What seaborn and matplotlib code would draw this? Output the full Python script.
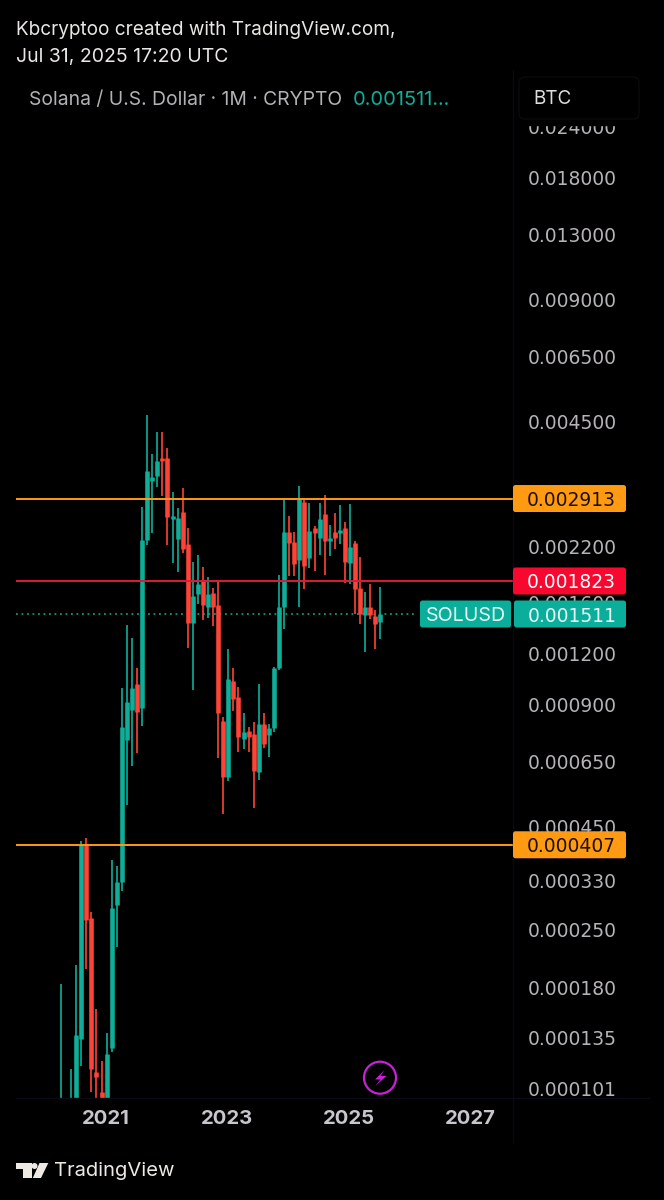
import matplotlib
matplotlib.use('Agg')
import matplotlib.pyplot as plt
from matplotlib.patches import Circle, FancyBboxPatch, Polygon, Rectangle
from matplotlib.ticker import NullFormatter, NullLocator
from matplotlib.transforms import ScaledTranslation
import numpy as np
import pandas as pd
import seaborn as sns

# monthly SOL/BTC candles, Apr 2020 to Jul 2025
opens = [0.000070, 0.000070, 0.000070, 0.000090, 0.000135, 0.000406, 0.000268, 0.000112, 0.000100, 0.000092,
         0.000128, 0.000289, 0.000329, 0.000738, 0.000876, 0.001015, 0.000886, 0.002301, 0.003218, 0.003312,
         0.003667, 0.003667, 0.002593, 0.002314, 0.002698, 0.002249, 0.001435, 0.001693, 0.001823, 0.001572,
         0.001703, 0.001590, 0.000822, 0.000599, 0.001032, 0.000943, 0.000742, 0.000778, 0.000764, 0.000616,
         0.000808, 0.000760, 0.000791, 0.001111, 0.001572, 0.002407, 0.002275, 0.002054, 0.002855, 0.002082,
         0.002463, 0.002327, 0.002668, 0.002288, 0.002407, 0.002394, 0.002463, 0.002019, 0.002262, 0.001751,
         0.001503, 0.001572, 0.001494, 0.001443]
highs = [0.000184, 0.000090, 0.000114, 0.000206, 0.000416, 0.000423, 0.000278, 0.000160, 0.000119, 0.000140,
         0.000373, 0.000360, 0.000992, 0.001419, 0.001318, 0.001111, 0.002775, 0.004683, 0.003752, 0.004252,
         0.004252, 0.003882, 0.003023, 0.002760, 0.003092, 0.002463, 0.002031, 0.002113, 0.001974, 0.001864,
         0.001751, 0.001823, 0.000842, 0.001238, 0.001111, 0.000997, 0.000861, 0.000795, 0.000818, 0.001015,
         0.000861, 0.000808, 0.001118, 0.001887, 0.002921, 0.002637, 0.002407, 0.003127, 0.002921, 0.002839,
         0.002491, 0.002839, 0.002973, 0.002505, 0.002683, 0.002807, 0.002549, 0.002823, 0.002288, 0.002089,
         0.001713, 0.001792, 0.001546, 0.001761]
lows = [0.000060, 0.000050, 0.000060, 0.000080, 0.000116, 0.000201, 0.000100, 0.000096, 0.000090, 0.000085,
        0.000125, 0.000228, 0.000313, 0.000510, 0.000637, 0.000686, 0.000799, 0.002237, 0.002394, 0.003110,
        0.002955, 0.002237, 0.002019, 0.001918, 0.002137, 0.001245, 0.000981, 0.001599, 0.001460, 0.001477,
        0.001411, 0.000667, 0.000485, 0.000585, 0.000871, 0.000690, 0.000702, 0.000690, 0.000502, 0.000588,
        0.000705, 0.000670, 0.000773, 0.001099, 0.001388, 0.001875, 0.001875, 0.001572, 0.001742, 0.001963,
        0.001929, 0.002113, 0.001887, 0.002101, 0.002186, 0.002249, 0.001802, 0.001792, 0.001511, 0.001427,
        0.001217, 0.001468, 0.001238, 0.001311]
closes = [0.000080, 0.000060, 0.000090, 0.000138, 0.000406, 0.000266, 0.000114, 0.000109, 0.000094, 0.000124,
          0.000284, 0.000329, 0.000795, 0.000917, 0.000992, 0.000866, 0.002301, 0.003407, 0.003292, 0.003605,
          0.003605, 0.002622, 0.002637, 0.002608, 0.002186, 0.001435, 0.001674, 0.001792, 0.001590, 0.001693,
          0.001572, 0.000861, 0.000599, 0.001044, 0.000932, 0.000751, 0.000773, 0.000751, 0.000619, 0.000808,
          0.000721, 0.000791, 0.001111, 0.001572, 0.002407, 0.002262, 0.002008, 0.002905, 0.001985, 0.002421,
          0.002394, 0.002593, 0.002288, 0.002327, 0.002327, 0.002435, 0.002031, 0.002211, 0.001742, 0.001511,
          0.001572, 0.001503, 0.001427, 0.001511]

price_ticks = [0.024, 0.018, 0.013, 0.009, 0.0065, 0.0045, 0.0022, 0.0016, 0.0012, 0.0009,
               0.00065, 0.00045, 0.00033, 0.00025, 0.00018, 0.000135, 0.000101]
year_pos = [8.8, 32.8, 56.8, 80.8]
year_labels = ['2021', '2023', '2025', '2027']

resistance = 0.002913
middle = 0.001823
support = 0.000407
last_price = 0.001511

UP = '#0fae99'
DOWN = '#ff4336'
ORANGE = '#ff9a12'
LINE_RED = '#dc1b3a'
BADGE_RED = '#f8082f'
BADGE_TEAL = '#0aae9a'
LABEL = '#b6b3b8'
SEP = '#0a0a14'
MAGENTA = '#c822d6'
NUM_FONT = 'DejaVu Sans'

sns.set_theme(style='dark', rc={
    'figure.facecolor': '#000000',
    'axes.facecolor': '#000000',
    'savefig.facecolor': '#000000',
    'axes.grid': False,
})
plt.rcParams['font.family'] = ['Inter', 'DejaVu Sans']

df = pd.DataFrame({'candle': np.arange(len(opens)), 'open': opens, 'high': highs,
                   'low': lows, 'close': closes})
df['dir'] = np.where(df['close'] >= df['open'], 'up', 'down')
colors = {'up': UP, 'down': DOWN}
wicks = df.melt(id_vars=['candle', 'dir'], value_vars=['low', 'high'], value_name='price')
bodies = df.melt(id_vars=['candle', 'dir'], value_vars=['open', 'close'], value_name='price')

fig = plt.figure(figsize=(6.64, 12), dpi=100)
# plot area is x 16..513, y 72..1098 in pixels
ax = fig.add_axes([16 / 664, 1 - 1098 / 1200, 497 / 664, 1026 / 1200])

sns.lineplot(data=wicks, x='candle', y='price', units='candle', hue='dir', palette=colors,
             estimator=None, sort=False, legend=False, ax=ax, lw=1.2, solid_capstyle='butt', zorder=2)
sns.lineplot(data=bodies, x='candle', y='price', units='candle', hue='dir', palette=colors,
             estimator=None, sort=False, legend=False, ax=ax, lw=3.3, solid_capstyle='butt', zorder=3)

ax.set_yscale('log')
ax.set_ylim(0.0000965, 0.0329)
ax.set_xlim(-8.876, 89.15)

ax.axhline(last_price, xmax=0.805, color=UP, lw=1.1, ls=(0, (1.2, 2.4)), zorder=1)
ax.axhline(resistance, color=ORANGE, lw=1.4, zorder=4)
ax.axhline(support, color=ORANGE, lw=1.4, zorder=4)
ax.axhline(middle, color=LINE_RED, lw=1.4, zorder=4)

ax.yaxis.tick_right()
ax.yaxis.set_minor_locator(NullLocator())
ax.yaxis.set_minor_formatter(NullFormatter())
ax.set_yticks(price_ticks)
ax.set_yticklabels([f'{p:.6f}' for p in price_ticks], fontfamily=NUM_FONT)
ax.tick_params(axis='y', length=0, pad=10.4, labelsize=13.5, labelcolor=LABEL)
# labels sit about a pixel higher than the true price
nudge = ScaledTranslation(0, 1 / 100, fig.dpi_scale_trans)
for tick in ax.yaxis.get_major_ticks():
    tick.label2.set_transform(tick.label2.get_transform() + nudge)
ax.set_xticks(year_pos)
ax.set_xticklabels(year_labels, fontweight='bold')
ax.tick_params(axis='x', length=0, pad=9, labelsize=14.6, labelcolor='#c9c5cc')
ax.set_xlabel('')
ax.set_ylabel('')
for spine in ax.spines.values():
    spine.set_visible(False)

# everything around the chart, in pixel coordinates
over = fig.add_axes([0, 0, 1, 1], zorder=10)
over.set_xlim(0, 664)
over.set_ylim(1200, 0)
over.axis('off')
over.patch.set_alpha(0)

fig.canvas.draw()


def price_y(price):
    return 1200 - ax.transData.transform((0, price))[1]


over.add_patch(Rectangle((514, 60), 150, 65, color='#000000', zorder=1))
over.plot([513, 513], [70, 1143], color=SEP, lw=1, zorder=1)
over.plot([16, 650], [1098, 1098], color=SEP, lw=1, zorder=1)
over.add_patch(FancyBboxPatch((523, 81), 112, 34, boxstyle='round,pad=4,rounding_size=6',
                              fc='#000000', ec='#0d0d12', lw=0.8, zorder=2))
over.text(533, 99, 'BTC', color='#dcdcdc', fontsize=13.6, va='center', zorder=3)


def badge(x0, x1, price, color, text, text_color, family=NUM_FONT, size=13.5, shift=2):
    yc = price_y(price)
    over.add_patch(FancyBboxPatch((x0 + 2, yc - 11.5), x1 - x0 - 4, 23,
                                  boxstyle='round,pad=2,rounding_size=2.5', fc=color, ec='none', zorder=4))
    over.text((x0 + x1) / 2 + shift, yc, text, color=text_color, fontsize=size, family=family,
              ha='center', va='center_baseline', zorder=5)


badge(513, 626, resistance, ORANGE, '0.002913', '#1b1206')
badge(513, 626, middle, BADGE_RED, '0.001823', '#ffffff')
badge(513, 626, support, ORANGE, '0.000407', '#1b1206')
badge(420, 511, last_price, BADGE_TEAL, 'SOLUSD', '#e8fbf8', family='Inter', size=14.2, shift=0.5)
badge(514, 626, last_price, BADGE_TEAL, '0.001511', '#e8fbf8')

over.text(16, 30, 'Kbcryptoo created with TradingView.com,', color='#e9e7e4', fontsize=13.7, va='center')
over.text(16, 57, 'Jul 31, 2025 17:20 UTC', color='#e9e7e4', fontsize=14, va='center')
over.text(29, 100, 'Solana / U.S. Dollar · 1M · CRYPTO', color='#b3b1b6', fontsize=13.9, va='center')
over.text(353, 100, '0.001511...', color='#0fae99', fontsize=14.4, va='center')

# lightning badge
over.add_patch(Circle((380, 1077.7), 16, fc='none', ec=MAGENTA, lw=1.6))
over.add_patch(Polygon([(384.5, 1070), (375, 1079.5), (380.5, 1079.5), (375, 1086),
                        (386.7, 1076), (380.5, 1076)], closed=True, fc=MAGENTA, ec='none'))

# TradingView logo
logo = '#eee9e3'
over.add_patch(Polygon([(16, 1163), (32, 1163), (32, 1178), (23, 1178), (23, 1169), (16, 1169)],
                       closed=True, fc=logo, ec='none'))
over.add_patch(Circle((34.5, 1166), 3, fc=logo, ec='none'))
over.add_patch(Polygon([(39.5, 1163), (48.3, 1163), (41, 1178), (32.8, 1178)], closed=True, fc=logo, ec='none'))
over.text(54, 1171, 'TradingView', color=logo, fontsize=14.5, va='center')

fig.savefig('out.png', dpi=100)
